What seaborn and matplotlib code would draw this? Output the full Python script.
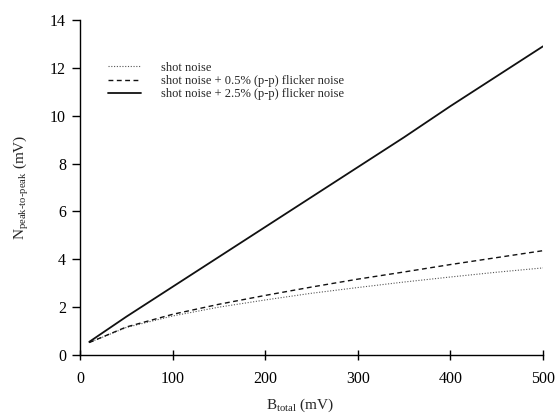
import matplotlib
matplotlib.use("Agg")
import matplotlib.pyplot as plt
import seaborn as sns
import pandas as pd

# B_total (mV)
b_total = [10, 50, 100, 150, 200, 250, 300, 350, 400, 450, 500]
# Peak-to-peak noise (mV) for each noise model
shot = [0.52, 1.15, 1.63, 2.00, 2.30, 2.58, 2.82, 3.05, 3.26, 3.46, 3.64]
flicker_05 = [0.52, 1.17, 1.70, 2.12, 2.49, 2.84, 3.17, 3.47, 3.78, 4.07, 4.36]
flicker_25 = [0.55, 1.60, 2.85, 4.10, 5.35, 6.60, 7.85, 9.10, 10.40, 11.65, 12.90]

labels = ["shot noise",
          "shot noise + 0.5% (p-p) flicker noise",
          "shot noise + 2.5% (p-p) flicker noise"]

sns.set_theme(style="ticks")
plt.rcParams["font.family"] = ["Liberation Serif", "DejaVu Serif"]
plt.rcParams["mathtext.fontset"] = "custom"
plt.rcParams["mathtext.rm"] = "Liberation Serif"
plt.rcParams["mathtext.it"] = "Liberation Serif:italic"

df = pd.DataFrame({
    "B": b_total * 3,
    "N": shot + flicker_05 + flicker_25,
    "series": [labels[0]] * len(b_total) + [labels[1]] * len(b_total) + [labels[2]] * len(b_total),
})

fig = plt.figure(figsize=(5.57, 4.15), dpi=100)
ax = fig.add_axes([80 / 557, 60 / 415, 463 / 557, 335 / 415])

styles = {labels[0]: dict(ls=(0, (1, 1.5)), lw=0.8, color="#555555"),
          labels[1]: dict(ls=(0, (3.5, 2.5)), lw=1.0, color="#111111"),
          labels[2]: dict(ls="-", lw=1.3, color="#111111")}
for name in labels:
    sub = df[df["series"] == name]
    sns.lineplot(data=sub, x="B", y="N", ax=ax, label=name, **styles[name])

ax.set_xlim(0, 500)
ax.set_ylim(0, 14)
ax.set_xticks([0, 100, 200, 300, 400, 500])
ax.set_yticks([0, 2, 4, 6, 8, 10, 12, 14])
ax.spines["top"].set_visible(False)
ax.spines["right"].set_visible(False)
for s in ("left", "bottom"):
    ax.spines[s].set_linewidth(1.0)
    ax.spines[s].set_color("black")
ax.tick_params(axis="y", direction="out", length=6, width=1, labelsize=11.5, pad=4, colors="black")
ax.tick_params(axis="x", direction="inout", length=7, width=1, labelsize=11.5, pad=8, colors="black")

ax.set_xlabel(r"B$_{\mathrm{total}}$ (mV)", fontsize=11)
ax.xaxis.set_label_coords(0.475, -0.125)
ax.set_ylabel("N$_{\\mathrm{peak\u2010to\u2010peak}}$ (mV)", fontsize=11, labelpad=14)

leg = ax.legend(loc="upper left", bbox_to_anchor=(0.05, 0.89), frameon=False,
                fontsize=9, handlelength=2.6, handletextpad=1.6,
                labelspacing=0.1, borderaxespad=0)

fig.savefig("out.png", dpi=100)
